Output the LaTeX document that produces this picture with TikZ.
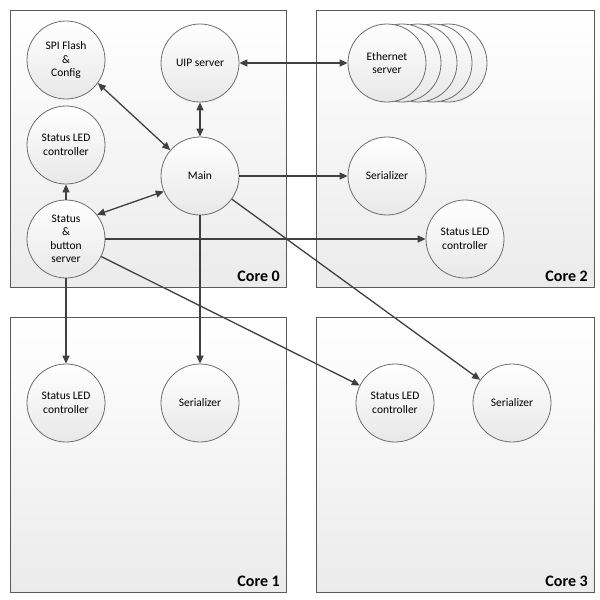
\documentclass[tikz,border=0pt]{standalone}
\usepackage{fontspec}
\setmainfont{Carlito}
\usetikzlibrary{arrows.meta,shadows}
\definecolor{boxline}{HTML}{5A5A5A}
\definecolor{circline}{HTML}{6E6E6E}
\definecolor{arrowc}{HTML}{404040}
\definecolor{boxbot}{HTML}{EBEBEB}
\definecolor{circbot}{HTML}{E8E8E8}
\begin{document}
\begin{tikzpicture}[x=1pt,y=-1pt,
  corebox/.style={draw=boxline, line width=0.9pt, top color=white, bottom color=boxbot,
    drop shadow={opacity=0.25, shadow xshift=1.2pt, shadow yshift=-1.2pt}},
  corelabel/.style={anchor=south east, inner sep=0pt, font=\fontsize{16}{18}\selectfont\bfseries},
  proc/.style={circle, draw=circline, line width=0.8pt, minimum size=78pt, inner sep=0pt,
    align=center, font=\fontsize{11.5}{13.5}\selectfont, top color=white, bottom color=circbot},
  conn/.style={draw=arrowc, line width=1.3pt, -{Triangle[length=8pt,width=7pt]}},
  bi/.style={draw=arrowc, line width=1.3pt, {Triangle[length=8pt,width=7pt]}-{Triangle[length=8pt,width=7pt]}}]
\useasboundingbox (0,0) rectangle (600,600);

% core boxes
\path[corebox] (10,10) rectangle (286,287);
\path[corebox] (316,10) rectangle (594,287);
\path[corebox] (10,317) rectangle (286,592);
\path[corebox] (316,317) rectangle (594,592);
\node[corelabel] (c0) at (280,282) {Core 0};
\node[corelabel] (c2) at (588,282) {Core 2};
\node[corelabel] (c1) at (280,587) {Core 1};
\node[corelabel] (c3) at (588,587) {Core 3};

% core 0
\node[proc] (spi)  at (66,60)  {SPI Flash\\\&\\Config};
\node[proc] (uip)  at (200,63) {UIP server};
\node[proc] (led0) at (66,145) {Status LED\\controller};
\node[proc] (main) at (200,176) {Main};
\node[proc] (stat) at (66,239) {Status\\\&\\button\\server};

% core 2
\node[proc] (eth4) at (448,63) {};
\node[proc] (eth3) at (433,63) {};
\node[proc] (eth2) at (418,63) {};
\node[proc] (eth1) at (402,63) {};
\node[proc] (eth)  at (387,63) {Ethernet\\server};
\node[proc] (ser2) at (387,176) {Serializer};
\node[proc] (led2) at (465,239) {Status LED\\controller};

% core 1
\node[proc] (led1) at (66,403) {Status LED\\controller};
\node[proc] (ser1) at (200,403) {Serializer};

% core 3
\node[proc] (led3) at (395,403) {Status LED\\controller};
\node[proc] (ser3) at (512,403) {Serializer};

% connectors
\draw[bi] (uip) -- (eth);
\draw[bi] (uip) -- (main);
\draw[bi] (spi.-36) -- (main.139);
\draw[bi] (stat.38) -- (main.203);
\draw[conn] (stat) -- (led0);
\draw[conn] (main) -- (ser2);
\draw[conn] (stat) -- (led2);
\draw[conn] (stat) -- (led1);
\draw[conn] (stat) -- (led3);
\draw[conn] (main) -- (ser1);
\draw[conn] (main) -- (ser3);
\end{tikzpicture}
\end{document}
